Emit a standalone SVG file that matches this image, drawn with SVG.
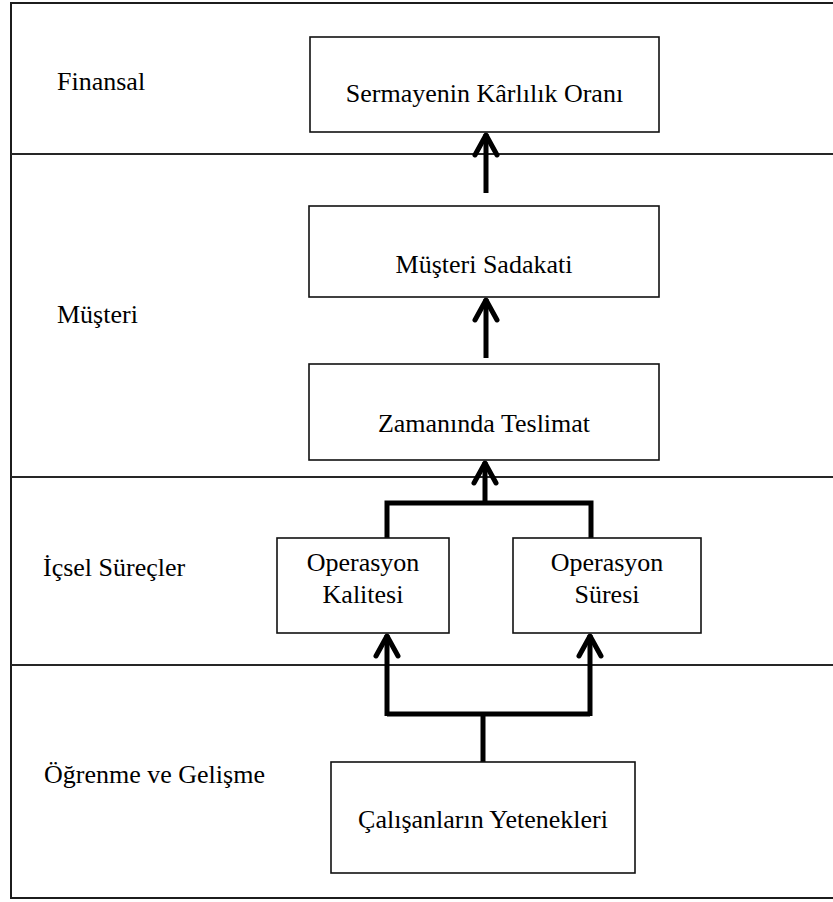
<svg xmlns="http://www.w3.org/2000/svg" width="833" height="902" viewBox="0 0 833 902">
  <style>
    .frame { stroke: #1c1c1c; stroke-width: 2; fill: none; }
    .band { stroke: #262626; stroke-width: 2; fill: none; }
    .box { fill: #ffffff; stroke: #111111; stroke-width: 1.6; }
    .lbl { font-family: "Liberation Serif", "Times New Roman", serif; font-size: 26px; fill: #000000; }
    .mid { text-anchor: middle; }
    .link { stroke: #000000; stroke-width: 5; fill: none; stroke-linejoin: miter; }
  </style>
  <defs>
    <marker id="chev" markerUnits="userSpaceOnUse" orient="auto" refX="0" refY="0" markerWidth="30" markerHeight="30" viewBox="-26 -14 30 28" overflow="visible">
      <path d="M-21,-11 L-1,0 L-21,11" fill="none" stroke="#000000" stroke-width="5" stroke-linejoin="round" stroke-linecap="round"/>
    </marker>
  </defs>

  <rect width="833" height="902" fill="#ffffff"/>

  <!-- perspective bands -->
  <g id="bands">
    <line class="frame" x1="11" y1="3" x2="833" y2="3"/>
    <line class="frame" x1="11" y1="2" x2="11" y2="899"/>
    <line class="band" x1="11" y1="154" x2="833" y2="154"/>
    <line class="band" x1="11" y1="477" x2="833" y2="477"/>
    <line class="band" x1="11" y1="665" x2="833" y2="665"/>
    <line class="frame" x1="11" y1="898" x2="833" y2="898" stroke-width="3"/>
    <text class="lbl" x="57" y="90">Finansal</text>
    <text class="lbl" x="57" y="323">Müşteri</text>
    <text class="lbl" x="43" y="576">İçsel Süreçler</text>
    <text class="lbl" x="44" y="783">Öğrenme ve Gelişme</text>
  </g>

  <!-- connectors -->
  <g id="connectors">
    <line class="link" x1="486" y1="193" x2="486" y2="134" marker-end="url(#chev)"/>
    <line class="link" x1="486" y1="358" x2="486" y2="299" marker-end="url(#chev)"/>
    <path class="link" d="M387,538 V503 H591 V538"/>
    <line class="link" x1="485" y1="503" x2="485" y2="462" marker-end="url(#chev)"/>
    <path class="link" d="M483,762 V714"/>
    <path class="link" d="M387,714 H590"/>
    <line class="link" x1="387" y1="716" x2="387" y2="635" marker-end="url(#chev)"/>
    <line class="link" x1="590" y1="716" x2="590" y2="635" marker-end="url(#chev)"/>
  </g>

  <g id="sermaye">
    <rect class="box" x="310" y="37" width="349" height="95"/>
    <text class="lbl mid" x="484.5" y="102">Sermayenin Kârlılık Oranı</text>
  </g>
  <g id="sadakat">
    <rect class="box" x="309" y="206" width="350" height="91"/>
    <text class="lbl mid" x="484" y="273">Müşteri Sadakati</text>
  </g>
  <g id="teslimat">
    <rect class="box" x="309" y="364" width="350" height="96"/>
    <text class="lbl mid" x="484" y="432">Zamanında Teslimat</text>
  </g>
  <g id="kalite">
    <rect class="box" x="277" y="538" width="172" height="95"/>
    <text class="lbl mid" x="363" y="571">Operasyon</text>
    <text class="lbl mid" x="363" y="603">Kalitesi</text>
  </g>
  <g id="sure">
    <rect class="box" x="513" y="538" width="188" height="95"/>
    <text class="lbl mid" x="607" y="571">Operasyon</text>
    <text class="lbl mid" x="607" y="603">Süresi</text>
  </g>
  <g id="calisan">
    <rect class="box" x="331" y="762" width="304" height="111"/>
    <text class="lbl mid" x="483" y="828">Çalışanların Yetenekleri</text>
  </g>
</svg>
